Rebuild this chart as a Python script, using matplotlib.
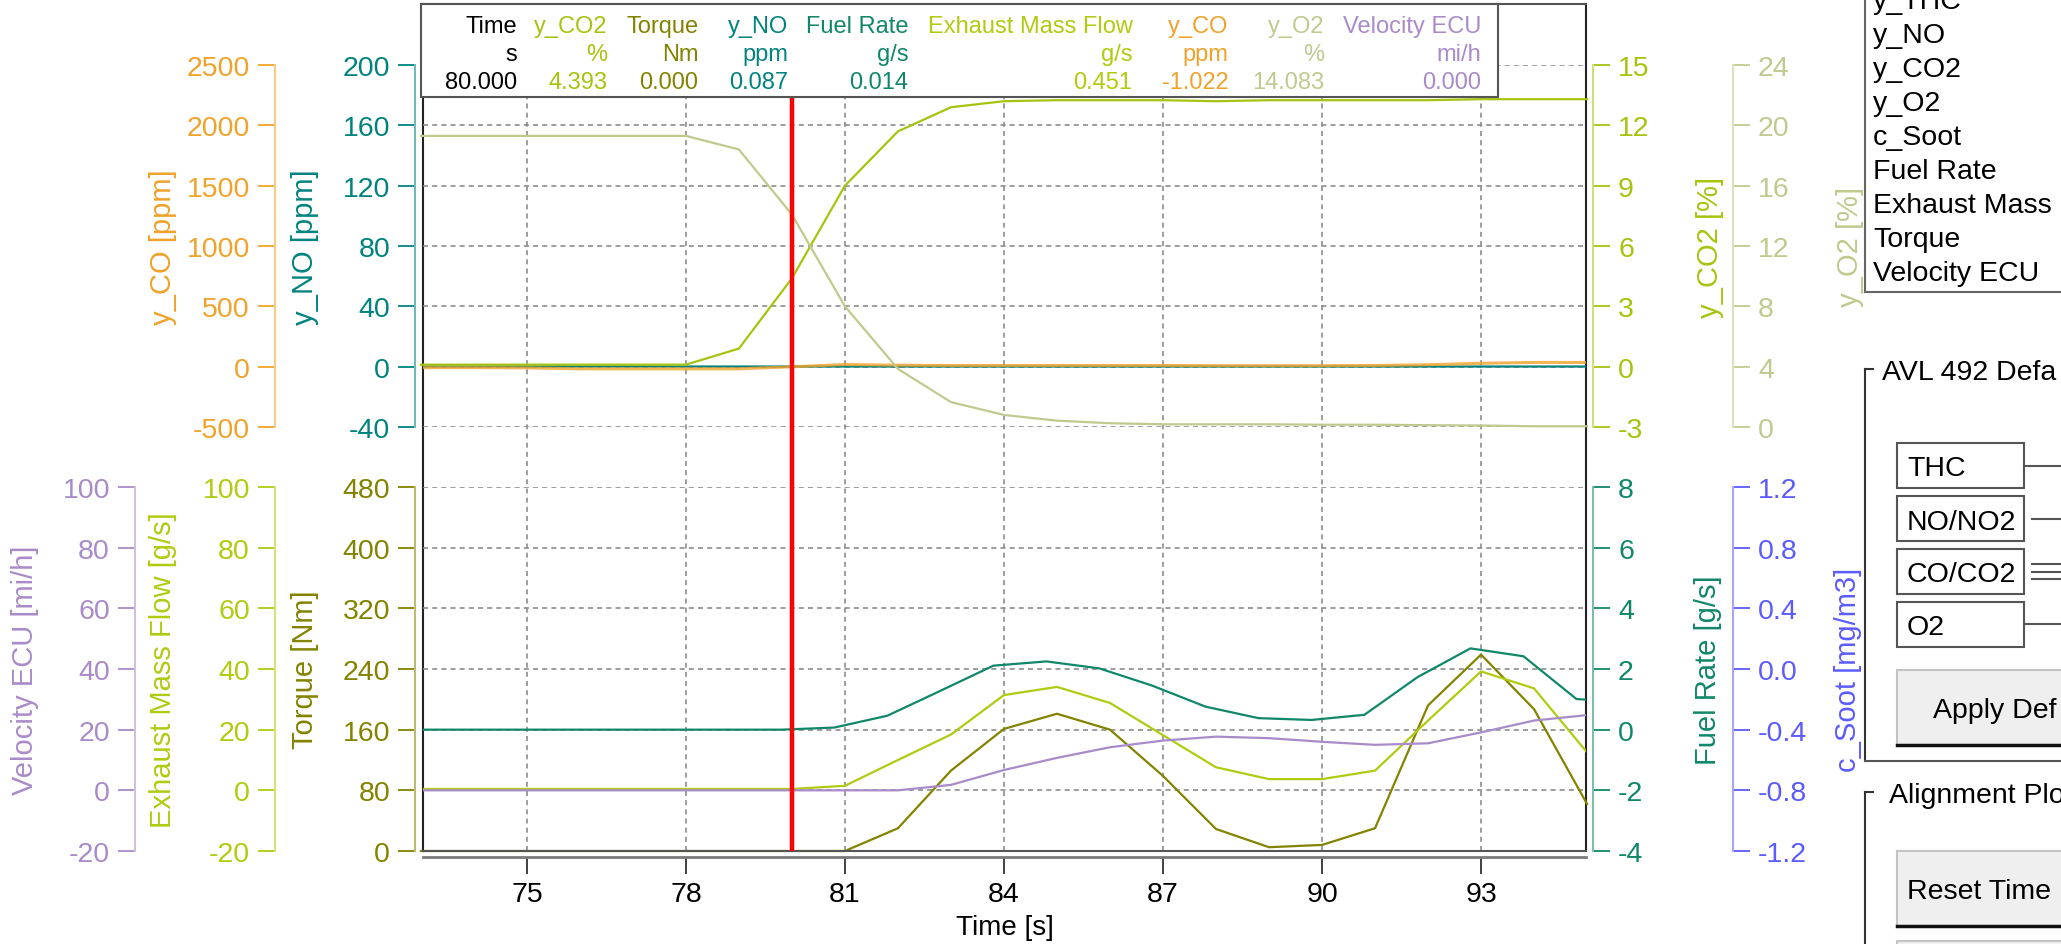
import numpy as np
import matplotlib
matplotlib.use('Agg')
import matplotlib.pyplot as plt
from matplotlib.patches import Rectangle
from matplotlib.lines import Line2D
from matplotlib.colors import to_rgb

plt.rcParams['font.family'] = ['Liberation Sans', 'DejaVu Sans']
plt.rcParams['axes.unicode_minus'] = False

# ---- data (1 s samples) ----
t = np.arange(73, 96)
co2 = [0.1, 0.1, 0.1, 0.1, 0.1, 0.1, 0.9, 4.393, 9.0, 11.7, 12.9, 13.2, 13.25,
       13.25, 13.25, 13.2, 13.25, 13.25, 13.25, 13.25, 13.3, 13.3, 13.3]
o2 = [19.3, 19.3, 19.3, 19.3, 19.3, 19.3, 18.4, 14.083, 8.0, 3.85, 1.65, 0.8, 0.42,
      0.25, 0.18, 0.18, 0.18, 0.15, 0.15, 0.12, 0.1, 0.05, 0.05]
co = [-8, -8, -10, -18, -18, -18, -18, -1.022, 18, 12, 10, 10, 10,
      10, 10, 8, 8, 8, 10, 16, 28, 35, 35]
no = [0.1, 0.1, 0.1, 0.1, 0.1, 0.1, 0.1, 0.087, 0.1, 0.1, 0.1, 0.1, 0.1,
      0.1, 0.1, 0.1, 0.1, 0.1, 0.1, 0.1, 0.1, 0.1, 0.1]
torque = [0, 0, 0, 0, 0, 0, 0, 0, 0, 30, 106, 161, 181,
          160, 99, 29, 5, 8, 30, 192, 259, 187, 62]
exhaust = [0.45, 0.45, 0.45, 0.45, 0.45, 0.45, 0.45, 0.451, 1.5, 10, 18.4, 31.4, 34.1,
           28.8, 18.2, 7.6, 3.7, 3.7, 6.5, 23, 39.2, 33.6, 12.5]
velocity = [0, 0, 0, 0, 0, 0, 0, 0, 0, 0, 1.8, 6.7, 10.7,
            14.2, 16.4, 17.7, 17.2, 16.0, 15.0, 15.5, 19.1, 23.0, 24.8]
# fuel rate is sampled 0.2 s earlier
fuel_t = np.arange(72.8, 96.0, 1.0)
fuel = [0, 0, 0, 0, 0, 0, 0, 0, 0.07, 0.46, 1.28, 2.11, 2.25, 2.02,
        1.45, 0.76, 0.38, 0.32, 0.49, 1.73, 2.68, 2.42, 1.01, 0.9]
cursor = 80.0

xticks = [75, 78, 81, 84, 87, 90, 93]

C_CO = '#f0a22a'
C_NO = '#00837f'
C_CO2 = '#a6c40f'
C_O2 = '#c2c98e'
C_VEL = '#a98bc9'
C_EXH = '#b0cb10'
C_TRQ = '#838300'
C_FUEL = '#11876a'
C_SOOT = '#5b5bff'

W, H = 2061, 945
PL, PR = 423, 1586
X0, X1 = 73.04, 94.98

fig = plt.figure(figsize=(W / 100, H / 100), dpi=100)


def box(x0, y0, x1, y1):
    return [x0 / W, 1 - y1 / H, (x1 - x0) / W, (y1 - y0) / H]


def light(c, f=0.45):
    r, g, b = to_rgb(c)
    return (r + (1 - r) * f, g + (1 - g) * f, b + (1 - b) * f)


GRID = dict(color='#8c8c8c', linestyle=(0, (3, 2.5)), linewidth=1.2)

# outer frame with time axis
frame = fig.add_axes(box(PL, 5, PR, 852))
frame.set_xlim(X0, X1)
frame.set_ylim(0, 1)
frame.set_yticks([])
frame.set_xticks(xticks)
frame.tick_params(axis='x', labelsize=20.5, length=12, width=1.3, pad=5, color='#333333')
frame.spines['bottom'].set_position(('outward', 4.3))
frame.spines['bottom'].set_color('#7a7a7a')
frame.spines['bottom'].set_linewidth(2)
for s in ['left', 'right']:
    frame.spines[s].set_color('#222222')
    frame.spines[s].set_linewidth(1.5)
frame.spines['top'].set_color('#555555')
frame.spines['top'].set_linewidth(1.5)
frame.grid(axis='x', **GRID)
frame.set_xlabel('Time [s]', fontsize=20, labelpad=5.5)


def side_axis(top, bottom, side, spine_x, lim, ticks, color, label, label_x, fmt='{:g}'):
    ax = fig.add_axes(box(PL, top, PR, bottom), facecolor='none')
    ax.set_xlim(X0, X1)
    ax.set_ylim(*lim)
    for s in ax.spines.values():
        s.set_visible(False)
    sp = ax.spines[side]
    sp.set_visible(True)
    sp.set_position(('axes', (spine_x - PL) / (PR - PL)))
    sp.set_color(light(color))
    sp.set_linewidth(1.5)
    ax.set_xticks([])
    if side == 'left':
        ax.yaxis.tick_left()
    else:
        ax.yaxis.tick_right()
    ax.set_yticks(ticks, [fmt.format(v) for v in ticks])
    ax.tick_params(axis='y', colors=color, labelsize=20.5, length=12, width=1.3, pad=6)
    ax.set_ylabel(label, fontsize=21, color=color)
    ax.yaxis.set_label_position(side)
    ax.yaxis.label.set_va('center')
    ax.yaxis.set_label_coords((label_x - PL) / (PR - PL), 0.5)
    return ax


# ---- upper panel ----
TT, TB = 66, 428
ax_no = side_axis(TT, TB, 'left', 415, (-40, 200), range(-40, 201, 40), C_NO, 'y_NO [ppm]', 305)
ax_no.yaxis.grid(True, **GRID)
ax_co = side_axis(TT, TB, 'left', 275, (-500, 2500), range(-500, 2501, 500), C_CO, 'y_CO [ppm]', 163)
ax_co2 = side_axis(TT, TB, 'right', 1593, (-3, 15), range(-3, 16, 3), C_CO2, 'y_CO2 [%]', 1710)
ax_o2 = side_axis(TT, TB, 'right', 1733, (0, 24), range(0, 25, 4), C_O2, 'y_O2 [%]', 1850)

ax_o2.plot(t, o2, color=C_O2, lw=1.6, clip_on=False)
ax_no.plot(t, no, color=C_NO, lw=1.6)
ax_co.plot(t, co, color=C_CO, lw=2.2, alpha=0.8)
ax_co2.plot(t, co2, color=C_CO2, lw=1.6, clip_on=False)

# ---- lower panel ----
BT, BB = 488, 852
ax_tq = side_axis(BT, BB, 'left', 415, (0, 480), range(0, 481, 80), C_TRQ, 'Torque [Nm]', 305)
ax_tq.yaxis.grid(True, **GRID)
ax_tq.spines['bottom'].set_visible(True)
ax_tq.spines['bottom'].set_color('#555555')
ax_tq.spines['bottom'].set_linewidth(1.5)
ax_ex = side_axis(BT, BB, 'left', 275, (-20, 100), range(-20, 101, 20), C_EXH, 'Exhaust Mass Flow [g/s]', 163)
ax_vel = side_axis(BT, BB, 'left', 135, (-20, 100), range(-20, 101, 20), C_VEL, 'Velocity ECU [mi/h]', 25)
ax_fu = side_axis(BT, BB, 'right', 1593, (-4, 8), range(-4, 9, 2), C_FUEL, 'Fuel Rate [g/s]', 1708)
soot_ticks = [-1.2, -0.8, -0.4, 0.0, 0.4, 0.8, 1.2]
ax_so = side_axis(BT, BB, 'right', 1733, (-1.2, 1.2), soot_ticks, C_SOOT, 'c_Soot [mg/m3]', 1848, '{:.1f}')

ax_vel.plot(t, velocity, color=C_VEL, lw=1.6)
ax_ex.plot(t, exhaust, color=C_EXH, lw=1.6)
ax_tq.plot(t, torque, color=C_TRQ, lw=1.6, clip_on=False)
ax_fu.plot(fuel_t, fuel, color=C_FUEL, lw=1.6)

# cursor
over = fig.add_axes(box(PL, 5, PR, 852), facecolor='none')
over.set_xlim(X0, X1)
over.axis('off')
over.axvline(cursor, color='#ff0000', lw=3.2)

# ---- cursor readout table ----
fig.add_artist(Rectangle((421 / W, 1 - 98 / H), (1498 - 421) / W, 93 / H,
                         transform=fig.transFigure, facecolor='white',
                         edgecolor='#555555', lw=1.5, zorder=5))
tbl_names = ['Time', 'y_CO2', 'Torque', 'y_NO', 'Fuel Rate', 'Exhaust Mass Flow', 'y_CO', 'y_O2', 'Velocity ECU']
tbl_units = ['s', '%', 'Nm', 'ppm', 'g/s', 'g/s', 'ppm', '%', 'mi/h']
tbl_colors = ['black', C_CO2, C_TRQ, C_NO, C_FUEL, C_EXH, C_CO, C_O2, C_VEL]
tbl_vals = [cursor,
            np.interp(cursor, t, co2), np.interp(cursor, t, torque), np.interp(cursor, t, no),
            np.interp(cursor, fuel_t, fuel), np.interp(cursor, t, exhaust), np.interp(cursor, t, co),
            np.interp(cursor, t, o2), np.interp(cursor, t, velocity)]
tbl_right = [517, 607.5, 698.6, 788, 908.6, 1132.5, 1228.6, 1324, 1481]
for name, unit, val, col, xr in zip(tbl_names, tbl_units, tbl_vals, tbl_colors, tbl_right):
    for row, s in enumerate([name, unit, f'{val:.3f}']):
        fig.text(xr / W, 1 - (33 + 28 * row) / H, s, color=col, fontsize=17,
                 ha='right', va='baseline', zorder=6)

# ---- side panel (GUI, cut at the right edge) ----
def hline(x0, x1, y, color='#555555', lw=1.5):
    fig.add_artist(Line2D([x0 / W, x1 / W], [1 - y / H, 1 - y / H], transform=fig.transFigure,
                          color=color, lw=lw))


def vline(x, y0, y1, color='#555555', lw=1.5):
    fig.add_artist(Line2D([x / W, x / W], [1 - y0 / H, 1 - y1 / H], transform=fig.transFigure,
                          color=color, lw=lw))


list_items = ['y_THC', 'y_NO', 'y_CO2', 'y_O2', 'c_Soot', 'Fuel Rate', 'Exhaust Mass',
              'Torque', 'Velocity ECU']
vline(1865, -5, 293, '#666666')
hline(1865, 2070, 293, '#666666')
for i, item in enumerate(list_items):
    fig.text(1873 / W, 1 - (8.7 + 34 * i) / H, item, fontsize=20.5, va='baseline')

# group box 1
hline(1865, 1873, 370, '#333333')
vline(1865, 370, 762, '#333333')
hline(1865, 2070, 762, '#555555')
fig.text(1882 / W, 1 - 380 / H, 'AVL 492 Defa', fontsize=20.5, va='baseline')
buttons = ['THC', 'NO/NO2', 'CO/CO2', 'O2']
btn_top = [444, 497, 550, 603]
for name, top in zip(buttons, btn_top):
    fig.add_artist(Rectangle((1897 / W, 1 - (top + 45) / H), 127 / W, 45 / H,
                             transform=fig.transFigure, facecolor='white',
                             edgecolor='#555555', lw=1.5))
    fig.text(1907 / W, 1 - (top + 32.5) / H, name, fontsize=20.5, va='baseline')
hline(2024, 2070, 467)
hline(2032, 2070, 520)
for y in [565, 573, 580]:
    hline(2032, 2070, y)
hline(2024, 2070, 625)


def button(top, bottom, text, tx):
    fig.add_artist(Rectangle((1897 / W, 1 - bottom / H), 200 / W, (bottom - top) / H,
                             transform=fig.transFigure, facecolor='#efefef',
                             edgecolor='#c4c4c4', lw=1.5))
    hline(1897, 2070, bottom, '#111111', 2.5)
    fig.text(tx / W, 1 - (top + 0.63 * (bottom - top)) / H, text, fontsize=20.5, va='baseline')


button(671, 746, 'Apply Def', 1933)

# group box 2
hline(1865, 1873, 793, '#333333')
vline(1865, 793, 960, '#333333')
fig.text(1889 / W, 1 - 803 / H, 'Alignment Plo', fontsize=20.5, va='baseline')
button(852, 927, 'Reset Time', 1907)
fig.add_artist(Rectangle((1897 / W, 1 - 960 / H), 200 / W, 18 / H,
                         transform=fig.transFigure, facecolor='#efefef',
                         edgecolor='#c4c4c4', lw=1.5))

fig.savefig('out.png', dpi=100)
